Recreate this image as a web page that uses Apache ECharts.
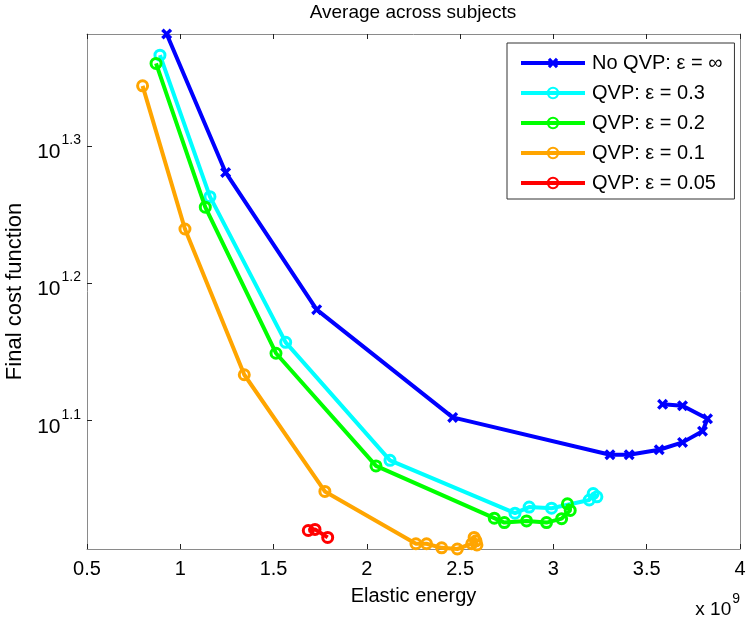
<!DOCTYPE html>
<html>
<head>
<meta charset="utf-8">
<script src="https://cdn.jsdelivr.net/npm/echarts@6/dist/echarts.min.js"></script>
<style>
html,body{margin:0;padding:0;background:#fff;}
#chart{width:750px;height:619px;}
</style>
</head>
<body>
<div id="chart"></div>
<script>
// Elastic energy in units of 1e9
const blueX   = [0.927, 1.243, 1.731, 2.460, 3.303, 3.406, 3.567, 3.692, 3.799, 3.826, 3.692, 3.585];
const blueY   = [24.10, 19.10, 15.17, 12.66, 11.89, 11.89, 11.99, 12.14, 12.37, 12.63, 12.91, 12.94];
const cyanX   = [0.891, 1.159, 1.565, 2.124, 2.794, 2.870, 2.990, 3.192, 3.213, 3.233];
const cyanY   = [23.26, 18.34, 14.36, 11.78, 10.78, 10.89, 10.87, 11.02, 11.14, 11.08];
const greenX  = [0.870, 1.134, 1.513, 2.049, 2.683, 2.737, 2.856, 2.963, 3.044, 3.090, 3.075];
const greenY  = [22.94, 18.02, 14.10, 11.67, 10.69, 10.61, 10.64, 10.61, 10.68, 10.83, 10.95];
const orangeX = [0.798, 1.025, 1.343, 1.775, 2.263, 2.320, 2.401, 2.485, 2.562, 2.575, 2.585, 2.590];
const orangeY = [22.09, 17.37, 13.60, 11.18, 10.24, 10.24, 10.17, 10.15, 10.24, 10.35, 10.29, 10.22];
const redX    = [1.686, 1.722, 1.790];
const redY    = [10.47, 10.49, 10.35];

const seriesNames = ['No QVP: \u03b5 = \u221e', 'QVP: \u03b5 = 0.3', 'QVP: \u03b5 = 0.2', 'QVP: \u03b5 = 0.1', 'QVP: \u03b5 = 0.05'];
const xTicks = [0.5, 1, 1.5, 2, 2.5, 3, 3.5, 4];
const yTickExponents = [1.1, 1.2, 1.3];

const FONT = '"Liberation Sans", Arial, Helvetica, sans-serif';
const colors = ['#0000ff', '#00ffff', '#00ff00', '#ffa500', '#ff0000'];
const xSym = 'path://M0,2.2 L2.2,0 L5,2.8 L7.8,0 L10,2.2 L7.2,5 L10,7.8 L7.8,10 L5,7.2 L2.2,10 L0,7.8 L2.8,5 Z';

function pairs(xs, ys) { return xs.map((x, i) => [x, ys[i]]); }
const datasets = [pairs(blueX, blueY), pairs(cyanX, cyanY), pairs(greenX, greenY), pairs(orangeX, orangeY), pairs(redX, redY)];

const yTickValues = yTickExponents.map(e => Math.pow(10, e));

function mkSeries(i) {
  const isX = i === 0;
  return {
    name: seriesNames[i],
    type: 'line',
    data: datasets[i],
    symbol: isX ? xSym : 'circle',
    symbolSize: isX ? 11 : 10,
    showAllSymbol: true,
    lineStyle: { color: colors[i], width: 4 },
    itemStyle: isX ? { color: colors[i] } : { color: 'rgba(255,255,255,0)', borderColor: colors[i], borderWidth: 3 },
    emphasis: { disabled: true },
    animation: false,
    z: 2 + i
  };
}

const axisLineStyle = { lineStyle: { color: '#8a8a8a', width: 1 } };
const tickStyle = { inside: true, length: 5, lineStyle: { color: '#222', width: 1 } };

const chart = echarts.init(document.getElementById('chart'), null, { renderer: 'canvas' });
chart.setOption({
  backgroundColor: '#fff',
  animation: false,
  grid: { left: 87, right: 10, top: 34, bottom: 70, containLabel: false, outerBoundsMode: 'none' },
  legend: {
    orient: 'vertical',
    left: 507, top: 43,
    padding: [10, 12, 6, 12],
    itemGap: 10,
    itemWidth: 64,
    itemHeight: 13,
    backgroundColor: '#fff',
    borderColor: '#333',
    borderWidth: 1,
    borderRadius: 0,
    lineStyle: { width: 4 },
    textStyle: { fontFamily: FONT, fontSize: 20, color: '#000', padding: [0, 0, 0, 2] },
    data: seriesNames
  },
  xAxis: [{
    type: 'value', position: 'bottom',
    min: 0.5, max: 4, interval: 0.5,
    name: 'Elastic energy', nameLocation: 'middle', nameGap: 37,
    nameTextStyle: { fontFamily: FONT, fontSize: 20, color: '#000' },
    axisLine: axisLineStyle, axisTick: tickStyle,
    axisLabel: { fontFamily: FONT, fontSize: 20, color: '#000', margin: 10,
      customValues: xTicks, formatter: v => String(v) },
    splitLine: { show: false }
  }, {
    type: 'value', position: 'top',
    min: 0.5, max: 4, interval: 0.5,
    axisLine: axisLineStyle, axisTick: tickStyle,
    axisLabel: { show: false }, splitLine: { show: false }
  }],
  yAxis: [{
    type: 'log', logBase: 10, position: 'left',
    min: 'dataMin', max: 'dataMax',
    name: 'Final cost function', nameLocation: 'middle', nameGap: 57,
    nameTextStyle: { fontFamily: FONT, fontSize: 22, color: '#000' },
    axisLine: axisLineStyle,
    axisTick: Object.assign({ customValues: yTickValues }, tickStyle),
    axisLabel: {
      customValues: yTickValues,
      margin: 6,
      formatter: v => '{b|10}{s|' + (Math.round(Math.log10(v) * 10) / 10).toFixed(1) + '}',
      rich: {
        b: { fontFamily: FONT, fontSize: 21, color: '#000', padding: [12, 0, 0, 0] },
        s: { fontFamily: FONT, fontSize: 14, color: '#000', padding: [0, 0, 12, 1] }
      }
    },
    splitLine: { show: false }
  }, {
    type: 'log', logBase: 10, position: 'right',
    min: 'dataMin', max: 'dataMax',
    axisLine: axisLineStyle,
    axisTick: Object.assign({ customValues: yTickValues }, tickStyle),
    axisLabel: { show: false, customValues: yTickValues },
    splitLine: { show: false }
  }],
  graphic: [{
    type: 'text', x: 413, y: 3,
    style: { text: 'Average across subjects', textAlign: 'center', textVerticalAlign: 'top',
      font: '19px ' + FONT, fill: '#000' }
  }, {
    type: 'text', x: 740, y: 590,
    style: {
      text: '{a|x 10}{b|9}', textAlign: 'right', textVerticalAlign: 'top',
      rich: {
        a: { fontFamily: FONT, fontSize: 19, color: '#000', padding: [10, 0, 0, 0] },
        b: { fontFamily: FONT, fontSize: 14, color: '#000', padding: [0, 0, 10, 1] }
      }
    }
  }],
  series: [0, 1, 2, 3, 4].map(mkSeries)
});
</script>
</body>
</html>
